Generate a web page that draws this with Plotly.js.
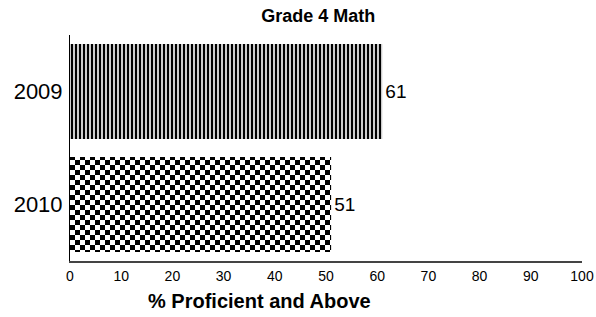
<!DOCTYPE html>
<html><head><meta charset="utf-8">
<script src="https://cdn.plot.ly/plotly-3.0.1.min.js"></script>
<style>html,body{margin:0;padding:0;background:#fff}#chart{width:596px;height:317px}</style>
</head><body><div id="chart"></div>
<script>
const years = ["2009", "2010"];
const values = [61, 51];
const labels = ["61", "51"];
const xTicks = [0, 10, 20, 30, 40, 50, 60, 70, 80, 90, 100];

const trace = {
  type: "bar",
  orientation: "h",
  y: years,
  x: values,
  text: labels,
  textposition: "outside",
  cliponaxis: false,
  textfont: {family: "Liberation Sans, Arial, sans-serif", size: 19, color: "#000"},
  marker: {
    color: "#fff",
    line: {width: 0},
    pattern: {shape: ["|", "x"], fgcolor: "#000", bgcolor: "#fff", size: [4, 6], solidity: [0.6, 0.6]}
  },
  hoverinfo: "none"
};

const layout = {
  width: 596, height: 317,
  margin: {l: 70, r: 14, t: 35, b: 56},
  paper_bgcolor: "#fff", plot_bgcolor: "#fff",
  showlegend: false,
  bargap: 0.16,
  font: {family: "Liberation Sans, Arial, sans-serif", color: "#000"},
  title: {text: "<b>Grade 4 Math</b>", x: 0.485, xref: "paper", xanchor: "center", y: 0.97, yanchor: "top", yref: "container",
          font: {size: 18, color: "#000"}},
  xaxis: {
    range: [0, 100], tickvals: xTicks, ticktext: xTicks.map(String),
    showgrid: false, zeroline: false, showline: true, linecolor: "#444", linewidth: 2,
    ticks: "", tickfont: {size: 14}, ticklabelstandoff: 1, fixedrange: true
  },
  yaxis: {
    type: "category",
    autorange: "reversed", showgrid: false, zeroline: false,
    showline: true, linecolor: "#000", linewidth: 1, ticks: "", ticklabelstandoff: 2,
    tickfont: {size: 22}, fixedrange: true
  },
  annotations: [{
    text: "<b>% Proficient and Above</b>", xref: "paper", yref: "paper",
    x: 0.37, y: -0.175, xanchor: "center", yanchor: "middle", showarrow: false,
    font: {size: 20, color: "#000"}
  }]
};

const gd = document.getElementById("chart");
Plotly.newPlot(gd, [trace], layout, {staticPlot: true, displayModeBar: false}).then(function () {
  // true checkerboard fill for the 2010 bar (Plotly has no checker pattern shape)
  const ns = "http://www.w3.org/2000/svg";
  const svg = gd.querySelector("svg.main-svg");
  let defs = svg.querySelector("defs");
  if (!defs) { defs = document.createElementNS(ns, "defs"); svg.insertBefore(defs, svg.firstChild); }
  const pat = document.createElementNS(ns, "pattern");
  pat.setAttribute("id", "checker5");
  pat.setAttribute("patternUnits", "userSpaceOnUse");
  pat.setAttribute("width", "10");
  pat.setAttribute("height", "10");
  [["0", "0", "10", "10", "#fff"], ["0", "0", "5", "5", "#000"], ["5", "5", "5", "5", "#000"]].forEach(function (r) {
    const e = document.createElementNS(ns, "rect");
    e.setAttribute("x", r[0]); e.setAttribute("y", r[1]);
    e.setAttribute("width", r[2]); e.setAttribute("height", r[3]);
    e.setAttribute("fill", r[4]);
    pat.appendChild(e);
  });
  defs.appendChild(pat);
  const paths = gd.querySelectorAll(".bars .point path");
  if (paths.length > 1) paths[1].style.fill = "url(#checker5)";
});
</script></body></html>
